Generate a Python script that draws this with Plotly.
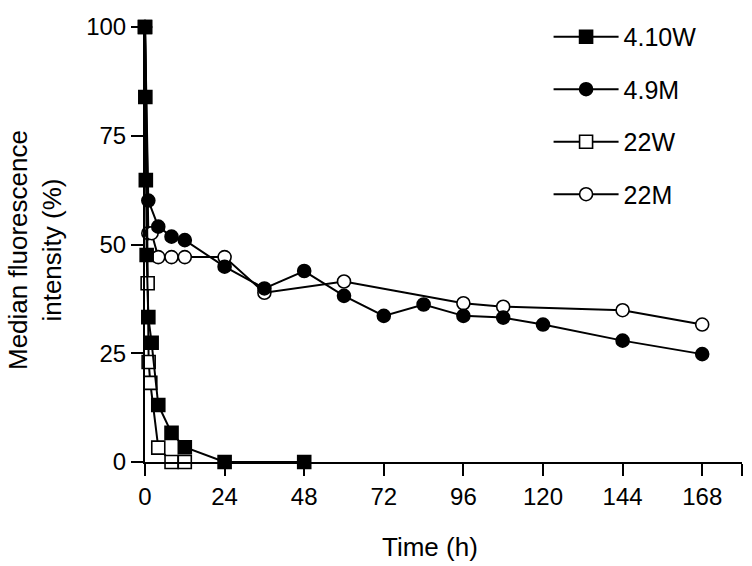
import plotly.graph_objects as go

# Data (time in hours, median fluorescence intensity in %)
t_410W = [0, 0.1, 0.25, 0.5, 1, 2, 4, 8, 12, 24, 48]
v_410W = [100, 83.9, 64.8, 47.6, 33.3, 27.4, 13.1, 6.7, 3.4, 0, 0]

t_49M = [0, 1, 4, 8, 12, 24, 36, 48, 60, 72, 84, 96, 108, 120, 144, 168]
v_49M = [100, 60.1, 54.1, 51.8, 51.0, 44.9, 39.9, 43.9, 38.2, 33.6, 36.2, 33.6, 33.2, 31.6, 27.9, 24.8]

t_22W = [0, 0.8, 1.1, 1.6, 4, 8, 12]
v_22W = [100, 41.1, 23.0, 18.2, 3.3, 0, 0]

t_22M = [0, 1, 2, 4, 8, 12, 24, 36, 60, 96, 108, 144, 168]
v_22M = [100, 52.6, 52.6, 47.1, 47.1, 47.1, 47.1, 38.9, 41.5, 36.5, 35.7, 34.9, 31.6]

x_ticks = [0, 24, 48, 72, 96, 120, 144, 168, 180]
x_ticktext = ["0", "24", "48", "72", "96", "120", "144", "168", ""]
y_ticks = [0, 25, 50, 75, 100]

FONT = "Liberation Sans, Arial, sans-serif"

fig = go.Figure()

def add(name, t, v, symbol, fill, rank):
    fig.add_trace(go.Scatter(
        x=t, y=v, name=name, mode="lines+markers", legendgroup=name,
        legendrank=rank,
        line=dict(color="black", width=2),
        marker=dict(symbol=symbol, size=13, color=fill,
                    line=dict(color="black", width=1.6)),
        cliponaxis=False,
    ))

# drawing order: open markers below, filled above
add("22M", t_22M, v_22M, "circle", "white", 4)
add("22W", t_22W, v_22W, "square", "white", 3)
add("4.9M", t_49M, v_49M, "circle", "black", 2)
add("4.10W", t_410W, v_410W, "square", "black", 1)

fig.update_layout(
    width=752, height=566,
    margin=dict(l=145, r=10, t=27, b=104, autoexpand=False),
    plot_bgcolor="white", paper_bgcolor="white",
    font=dict(family=FONT, color="black", size=24),
    showlegend=True,
    legend=dict(
        x=0.676, y=1.03, xanchor="left", yanchor="top",
        traceorder="grouped", tracegroupgap=17,
        itemwidth=65,
        font=dict(size=25, family=FONT),
        bgcolor="rgba(0,0,0,0)",
    ),
    xaxis=dict(
        range=[0, 180], tickmode="array", tickvals=x_ticks, ticktext=x_ticktext,
        showgrid=False, zeroline=False, showline=True, linecolor="black", linewidth=2,
        ticks="outside", ticklen=12, tickwidth=2, tickcolor="black",
        tickfont=dict(size=24, family=FONT),
    ),
    yaxis=dict(
        range=[0, 100], tickmode="array", tickvals=y_ticks,
        showgrid=False, zeroline=False, showline=True, linecolor="black", linewidth=2,
        ticks="outside", ticklen=12, tickwidth=2, tickcolor="black",
        tickfont=dict(size=24, family=FONT),
    ),
    annotations=[
        dict(text="Time (h)", xref="paper", yref="paper", x=(430 - 145) / 597, y=-0.195,
             xanchor="center", yanchor="middle", showarrow=False,
             font=dict(size=26, family=FONT)),
        dict(text="Median fluorescence<br>intensity (%)", xref="paper", yref="paper",
             x=(35 - 145) / 597, y=(462 - 250) / 435, xanchor="center", yanchor="middle",
             textangle=-90, showarrow=False, font=dict(size=26, family=FONT)),
    ],
)

fig.write_html("out.html", config={"displayModeBar": False},
               post_script="document.body.style.margin='0';document.body.style.overflow='hidden';")
